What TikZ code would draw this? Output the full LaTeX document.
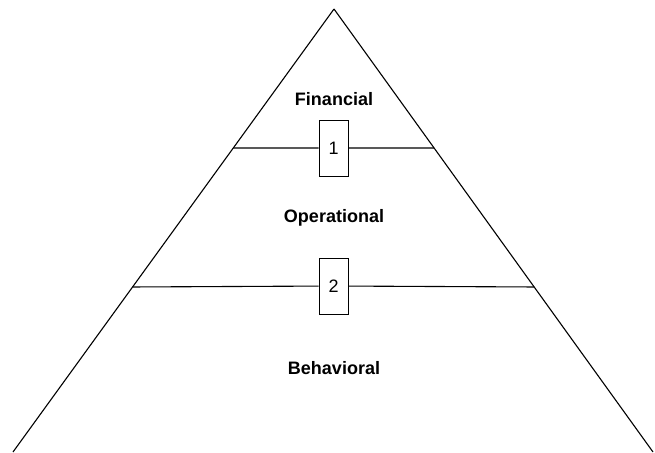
\documentclass[tikz,border=0pt]{standalone}
\usepackage{fontspec}
\setmainfont{Liberation Sans}
\usetikzlibrary{calc}
\tikzset{
  level/.style={
    % The text:
    font=\bfseries\fontsize{18}{20}\selectfont,
    inner sep=0pt}}
\tikzset{
	gate/.style={
		% The shape:
		rectangle,minimum width=29pt,minimum height=56pt,
		% The rest
		line width=1pt,draw=black,fill=white,
		font=\fontsize{18}{20}\selectfont}}

\begin{document}
\begin{tikzpicture}[x=1pt,y=-1pt,line width=1.1pt]
	\useasboundingbox (0,0) rectangle (655,452);
	% Corners of the pyramid
	\coordinate (apex) at (334,9);
	\coordinate (bl) at (13,452);
	\coordinate (br) at (653,452);
	\coordinate (l1) at ($(apex)!0.3138!(bl)$);
	\coordinate (r1) at ($(apex)!0.3138!(br)$);
	\coordinate (l2) at ($(apex)!0.6275!(bl)$);
	\coordinate (r2) at ($(apex)!0.6275!(br)$);
	% Sides
	\draw (apex) -- (bl);
	\draw (apex) -- (br);
	% Levels
	\node[level] (fin) at (334,99) {Financial};
	\node[level] (op) at (334,218) {Operational};
	\node[level] (beh) at (334,368) {Behavioral};
	% Boundaries between levels
	\node[gate] (g1) at (333.5,148) {1};
	\node[gate] (g2) at (333.5,286) {2};
	\draw (l1) -- (g1);
	\draw (g1) -- (r1);
	\draw (l2) -- (g2);
	\draw (g2) -- (r2);
\end{tikzpicture}
\end{document}
